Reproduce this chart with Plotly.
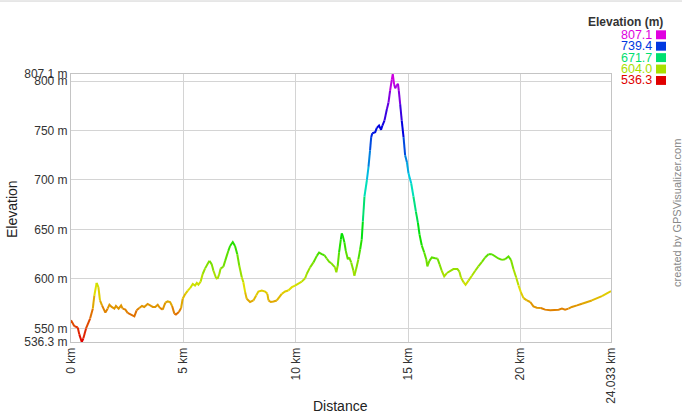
import colorsys
import plotly.graph_objects as go

# elevation profile (km, m)
dist_km = [
    0.00, 0.15, 0.30, 0.37, 0.48, 0.55, 0.67, 0.85, 0.97, 1.04, 1.14, 1.22, 1.29, 1.38,
    1.53, 1.63, 1.71, 1.81, 1.93, 2.00, 2.12, 2.23, 2.30, 2.42, 2.52, 2.67, 2.82, 2.92,
    3.04, 3.16, 3.26, 3.41, 3.56, 3.64, 3.75, 3.86, 3.96, 4.08, 4.20, 4.30, 4.41, 4.50,
    4.60, 4.67, 4.80, 4.90, 4.97, 5.09, 5.20, 5.30, 5.42, 5.52, 5.60, 5.67, 5.77, 5.86,
    5.97, 6.16, 6.26, 6.34, 6.46, 6.52, 6.60, 6.66, 6.78, 6.86, 7.00, 7.08, 7.20, 7.30,
    7.40, 7.49, 7.60, 7.67, 7.75, 7.82, 7.97, 8.12, 8.24, 8.34, 8.49, 8.64, 8.74, 8.79,
    8.89, 9.01, 9.16, 9.23, 9.38, 9.53, 9.67, 9.83, 9.97, 10.12, 10.27, 10.42, 10.49,
    10.64, 10.79, 10.94, 11.04, 11.16, 11.28, 11.38, 11.49, 11.58, 11.68, 11.75, 11.81,
    11.87, 11.93, 12.01, 12.05, 12.10, 12.17, 12.23, 12.32, 12.38, 12.47, 12.57, 12.61,
    12.69, 12.79, 12.87, 12.94, 12.99, 13.06, 13.17, 13.24, 13.31, 13.36, 13.41, 13.54,
    13.61, 13.71, 13.80, 13.86, 13.95, 14.06, 14.13, 14.20, 14.28, 14.32, 14.38, 14.43,
    14.48, 14.55, 14.59, 14.65, 14.72, 14.80, 14.87, 14.95, 15.02, 15.14, 15.24, 15.35,
    15.44, 15.51, 15.61, 15.72, 15.81, 15.86, 15.95, 16.06, 16.21, 16.31, 16.40, 16.50,
    16.61, 16.73, 16.87, 17.02, 17.20, 17.29, 17.35, 17.47, 17.56, 17.69, 17.84, 17.99,
    18.13, 18.29, 18.43, 18.58, 18.73, 18.88, 19.02, 19.18, 19.32, 19.47, 19.58, 19.69,
    19.81, 19.92, 20.02, 20.14, 20.29, 20.44, 20.58, 20.73, 20.91, 21.10, 21.33, 21.55,
    21.70, 21.85, 21.99, 22.14, 22.29, 22.52, 22.74, 22.96, 23.18, 23.41, 23.63, 23.85,
    24.033,
]
elev_m = [
    558.3, 552.3, 551.0, 544.0, 536.3, 540.0, 550.0, 560.0, 570.0, 583.3, 596.0, 591.7, 578.3, 573.3,
    566.0, 570.0, 574.0, 571.7, 570.0, 572.7, 570.0, 573.3, 570.0, 569.0, 565.7, 564.0, 562.3, 568.3,
    570.7, 572.7, 571.7, 574.7, 572.7, 571.7, 571.7, 574.0, 570.7, 569.0, 576.0, 577.3, 576.7, 572.7,
    565.0, 564.0, 566.7, 570.7, 580.0, 585.0, 588.3, 590.7, 595.0, 593.3, 596.0, 594.3, 597.3, 605.0,
    610.7, 618.3, 615.0, 608.3, 600.7, 600.0, 605.0, 610.7, 612.3, 618.3, 628.3, 633.3, 637.3, 633.3,
    625.0, 613.3, 601.7, 596.7, 586.7, 580.0, 576.7, 578.3, 583.3, 587.3, 588.3, 587.3, 585.0, 578.3,
    576.7, 577.3, 578.3, 580.7, 585.0, 587.3, 588.3, 591.7, 593.3, 595.0, 597.3, 600.7, 605.0,
    611.7, 616.7, 623.3, 626.7, 625.0, 624.0, 620.7, 617.3, 616.0, 613.3, 611.7, 606.7,
    613.3, 626.7, 640.0, 646.0, 643.3, 636.7, 628.3, 620.0, 621.7, 616.7, 608.3, 603.3,
    610.0, 620.0, 630.0, 640.0, 658.0, 683.3, 700.0, 713.3, 730.0, 743.3, 747.3, 748.3,
    752.7, 755.0, 750.7, 755.0, 760.0, 771.7, 778.3, 790.0, 801.7, 807.1, 796.7, 792.7,
    795.0, 797.3, 790.0, 776.7, 760.0, 743.3, 725.0, 718.0, 706.7, 696.7, 683.3, 668.0,
    656.7, 645.0, 634.0, 626.7, 620.0, 612.7, 618.3, 621.7, 621.0, 620.7, 615.0, 608.3,
    602.7, 606.0, 608.3, 610.0, 610.0, 607.3, 601.7, 596.7, 594.0, 598.3, 603.3, 608.3,
    612.7, 617.3, 621.7, 625.0, 625.0, 622.3, 620.7, 619.3, 620.0, 622.7, 619.3, 610.0,
    601.7, 593.3, 586.7, 580.7, 578.3, 576.7, 572.3, 571.0, 570.7, 569.0, 568.3, 568.3,
    569.0, 570.0, 569.0, 570.0, 571.7, 573.3, 575.0, 576.7, 578.3, 580.7, 582.7, 585.0,
    587.7,
]

x_ticks = [0, 5, 10, 15, 20, 24.033]
x_labels = ["0 km", "5 km", "10 km", "15 km", "20 km", "24.033 km"]
y_ticks = [536.3, 550, 600, 650, 700, 750, 800, 807.1]
y_labels = ["536.3 m", "550 m", "600 m", "650 m", "700 m", "750 m", "800 m", "807.1 m"]
legend_vals = [807.1, 739.4, 671.7, 604.0, 536.3]

E_MIN, E_MAX = 536.3, 807.1
FONT = "Liberation Sans, Arial, sans-serif"

# plot box in pixels
L, T, W, H = 71, 74, 540, 270


def px(x, y):
    return (x - L) / W, (T + H - y) / H


def elev_color(e):
    hue = 300 * (e - E_MIN) / (E_MAX - E_MIN) / 360
    r, g, b = colorsys.hsv_to_rgb(hue, 1, 0.88)
    return "rgb(%d,%d,%d)" % (r * 255, g * 255, b * 255)


def color_bin(e):
    return round((e - E_MIN) / (E_MAX - E_MIN) * 60)


fig = go.Figure()

# line coloured by elevation: consecutive segments with the same colour bin go in one trace
i = 0
n = len(dist_km)
while i < n - 1:
    b = color_bin((elev_m[i] + elev_m[i + 1]) / 2)
    j = i + 1
    while j < n - 1 and color_bin((elev_m[j] + elev_m[j + 1]) / 2) == b:
        j += 1
    fig.add_trace(go.Scatter(
        x=dist_km[i:j + 1], y=elev_m[i:j + 1], mode="lines",
        line=dict(color=elev_color(E_MIN + b / 60 * (E_MAX - E_MIN)), width=2),
        hoverinfo="skip", showlegend=False,
    ))
    i = j

fig.update_xaxes(
    range=[0, 24.033], tickvals=x_ticks, ticktext=x_labels, tickangle=-90,
    showgrid=True, gridcolor="#d4d4d4", gridwidth=1, zeroline=False,
    showline=True, linecolor="#c4c4c4", linewidth=1, mirror=True,
    ticks="", tickfont=dict(family=FONT, size=12, color="#333"),
)
fig.update_yaxes(
    range=[E_MIN, E_MAX], tickvals=y_ticks, ticktext=y_labels,
    showgrid=True, gridcolor="#d4d4d4", gridwidth=1, zeroline=False,
    showline=True, linecolor="#c4c4c4", linewidth=1, mirror=True,
    ticks="", tickfont=dict(family=FONT, size=12, color="#333"),
)

ann = []
shapes = []

# axis titles
x0, y0 = px(12, 210)
ann.append(dict(x=x0, y=y0, text="Elevation", textangle=-90,
                font=dict(family=FONT, size=14, color="#222")))
x0, y0 = px(340, 408)
ann.append(dict(x=x0, y=y0, text="Distance",
                font=dict(family=FONT, size=14, color="#222")))

# credit
x0, y0 = px(677, 214)
ann.append(dict(x=x0, y=y0, text="created by GPSVisualizer.com", textangle=-90,
                font=dict(family=FONT, size=11, color="#888")))

# colour legend
x0, y0 = px(664, 21.5)
ann.append(dict(x=x0, y=y0, text="<b>Elevation (m)</b>", xanchor="right",
                font=dict(family=FONT, size=12, color="#333")))
for k, v in enumerate(legend_vals):
    yc = 34.5 + k * 11.5
    c = elev_color(v)
    x0, y0 = px(653, yc)
    ann.append(dict(x=x0, y=y0, text="%.1f" % v, xanchor="right",
                    font=dict(family=FONT, size=12.5, color=c)))
    sx0, sy0 = px(656, yc - 4.5)
    sx1, sy1 = px(666, yc + 4.5)
    shapes.append(dict(type="rect", xref="paper", yref="paper", x0=sx0, y0=sy1, x1=sx1, y1=sy0,
                       fillcolor=c, line=dict(width=0)))

for a in ann:
    a["xref"] = "paper"
    a["yref"] = "paper"
    a["showarrow"] = False
    a.setdefault("xanchor", "center")
    a["yanchor"] = "middle"
    a["borderpad"] = 0

# thin rule along the top of the image
lx0, ly = px(0, 0.5)
lx1, _ = px(682, 0.5)
shapes.append(dict(type="line", xref="paper", yref="paper", x0=lx0, x1=lx1, y0=ly, y1=ly,
                   line=dict(color="#d0d0d0", width=1)))

fig.update_layout(
    width=682, height=416,
    margin=dict(l=L, r=682 - L - W, t=T, b=416 - T - H),
    plot_bgcolor="white", paper_bgcolor="white",
    annotations=ann, shapes=shapes, showlegend=False,
)

# page has a default 8px body margin; drop it so the chart fills the window
fig.write_html("out.html", config={"displayModeBar": False},
               post_script="document.body.style.margin='0';")
